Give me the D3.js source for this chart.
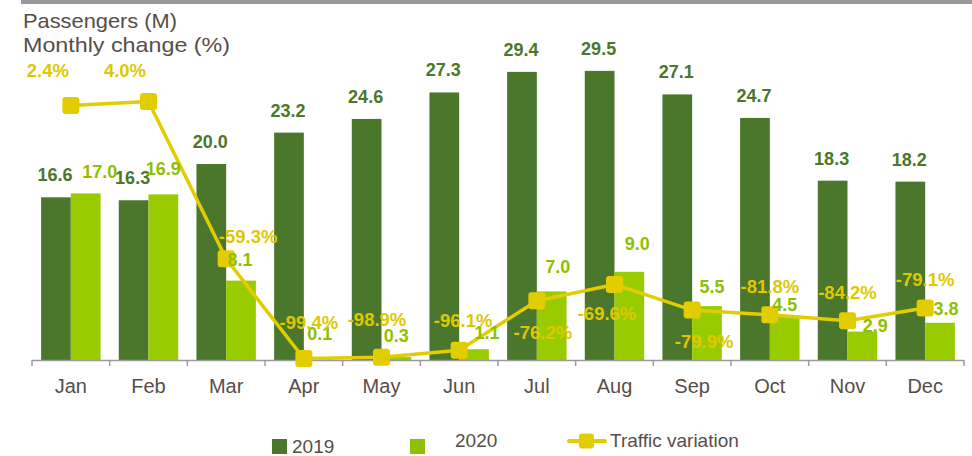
<!DOCTYPE html>
<html>
<head>
<meta charset="utf-8">
<script src="https://cdn.jsdelivr.net/npm/d3@7"></script>
<style>
  html, body { margin: 0; padding: 0; background: #fff; }
  svg { display: block; font-family: "Liberation Sans", Arial, sans-serif; }
</style>
</head>
<body>
<svg id="chart" width="972" height="456"></svg>
<script>
// ---- data ----
const months = ["Jan","Feb","Mar","Apr","May","Jun","Jul","Aug","Sep","Oct","Nov","Dec"];
const series = ["2019","2020"];
const passengers2019 = [16.6,16.3,20.0,23.2,24.6,27.3,29.4,29.5,27.1,24.7,18.3,18.2];
const passengers2020 = [17.0,16.9,8.1,0.1,0.3,1.1,7.0,9.0,5.5,4.5,2.9,3.8];
const monthlyChange = [2.4,4.0,-59.3,-99.4,-98.9,-96.1,-76.2,-69.6,-79.9,-81.8,-84.2,-79.1];
const changeLabels = ["2.4%","4.0%","-59.3%","-99.4%","-98.9%","-96.1%","-76.2%","-69.6%","-79.9%","-81.8%","-84.2%","-79.1%"];

// ---- layout (label nudges, not data) ----
const lab2020Nudge = [[14,-15.5],[0,-19.5],[-1,-14.6],[1,-19],[0,-15],[13,-10],[6,-18.7],[8,-22],[5,-13],[0,-5],[13,0],[6,-8]];
const pctNudge = [[-23,-28],[-23.5,-25],[22,-16],[5,-29.5],[-4.5,-31],[4,-23],[6,38],[-7.5,36],[12,38],[0,-22],[0,-22],[0,-22.5]];

const C2019 = "#4A772B", C2020 = "#99CC00", CLINE = "#E2CD00", CPCT = "#E0C800", CLAB2020 = "#8DC100";
const TXT = "#574E47";

const svg = d3.select("#chart");

// top grey rule
svg.append("rect").attr("x", 21).attr("y", 0).attr("width", 951).attr("height", 4).attr("fill", "#9A9A9A");

// titles
svg.append("text").attr("x", 23).attr("y", 28).attr("font-size", 21).attr("fill", TXT)
  .attr("textLength", 154).attr("lengthAdjust", "spacingAndGlyphs").text("Passengers (M)");
svg.append("text").attr("x", 23).attr("y", 52).attr("font-size", 21).attr("fill", TXT)
  .attr("textLength", 207).attr("lengthAdjust", "spacingAndGlyphs").text("Monthly change (%)");

// scales
const x = d3.scaleBand().domain(months).range([32, 964]).padding(0);
const x1 = d3.scaleBand().domain(series).range([0, x.bandwidth()]).paddingInner(0).paddingOuter(0.307);
const y = d3.scaleLinear().domain([0, 35]).range([360, 17]);
const y2 = d3.scaleLinear().domain([-100, 38]).range([360, 17]);

// bars
const g = svg.append("g");
months.forEach((m, i) => {
  const vals = [passengers2019[i], passengers2020[i]];
  series.forEach((s, j) => {
    g.append("rect")
      .attr("x", x(m) + x1(s))
      .attr("y", y(vals[j]))
      .attr("width", x1.bandwidth())
      .attr("height", y(0) - y(vals[j]))
      .attr("fill", j === 0 ? C2019 : C2020);
  });
});

// x axis
const axis = svg.append("g").attr("transform", "translate(0,360)");
axis.append("line").attr("x1", 32).attr("x2", 964).attr("y1", 0.5).attr("y2", 0.5).attr("stroke", "#9A9A9A").attr("stroke-width", 1.5);
const tickPos = months.map(m => x(m)).concat([x(months[months.length - 1]) + x.bandwidth()]);
tickPos.forEach(t => {
  axis.append("line").attr("x1", t).attr("x2", t).attr("y1", 0).attr("y2", 6).attr("stroke", "#9A9A9A").attr("stroke-width", 1.5);
});
months.forEach(m => {
  axis.append("text").attr("x", x(m) + x.bandwidth() / 2).attr("y", 33)
    .attr("text-anchor", "middle").attr("font-size", 20).attr("fill", TXT).text(m);
});

// 2019 labels
months.forEach((m, i) => {
  svg.append("text")
    .attr("x", x(m) + x1("2019") + x1.bandwidth() / 2 - 1)
    .attr("y", y(passengers2019[i]) - 16)
    .attr("text-anchor", "middle").attr("font-size", 18).attr("font-weight", "bold")
    .attr("fill", C2019).text(passengers2019[i].toFixed(1));
});

// line
const pts = months.map((m, i) => [x(m) + x.bandwidth() / 2, y2(monthlyChange[i])]);
svg.append("path").attr("d", d3.line()(pts)).attr("fill", "none")
  .attr("stroke", CLINE).attr("stroke-width", 3.5).attr("stroke-linejoin", "round");
pts.forEach(p => {
  svg.append("rect").attr("x", p[0] - 8.5).attr("y", p[1] - 8.5).attr("width", 17).attr("height", 17)
    .attr("rx", 3).attr("fill", CLINE);
});

// 2020 labels
months.forEach((m, i) => {
  svg.append("text")
    .attr("x", x(m) + x1("2020") + x1.bandwidth() / 2 + lab2020Nudge[i][0])
    .attr("y", y(passengers2020[i]) + lab2020Nudge[i][1])
    .attr("text-anchor", "middle").attr("font-size", 18).attr("font-weight", "bold")
    .attr("fill", CLAB2020).text(passengers2020[i].toFixed(1));
});

// percent labels
pts.forEach((p, i) => {
  svg.append("text")
    .attr("x", p[0] + pctNudge[i][0]).attr("y", p[1] + pctNudge[i][1])
    .attr("text-anchor", "middle").attr("font-size", 18.5).attr("font-weight", "bold")
    .attr("fill", CPCT).text(changeLabels[i]);
});

// legend
const lg = svg.append("g");
lg.append("rect").attr("x", 272).attr("y", 439).attr("width", 15).attr("height", 15).attr("fill", C2019);
lg.append("text").attr("x", 292).attr("y", 453).attr("font-size", 19).attr("fill", TXT).text("2019");
lg.append("rect").attr("x", 410).attr("y", 439).attr("width", 15).attr("height", 15).attr("fill", "#8DC000");
lg.append("text").attr("x", 455).attr("y", 447).attr("font-size", 19).attr("fill", TXT).text("2020");
lg.append("line").attr("x1", 569).attr("x2", 605).attr("y1", 441).attr("y2", 441).attr("stroke", CLINE).attr("stroke-width", 4).attr("stroke-linecap", "round");
lg.append("rect").attr("x", 579).attr("y", 433.5).attr("width", 15).attr("height", 15).attr("rx", 3).attr("fill", CLINE);
lg.append("text").attr("x", 610).attr("y", 447).attr("font-size", 19).attr("fill", TXT).text("Traffic variation");
</script>
</body>
</html>
